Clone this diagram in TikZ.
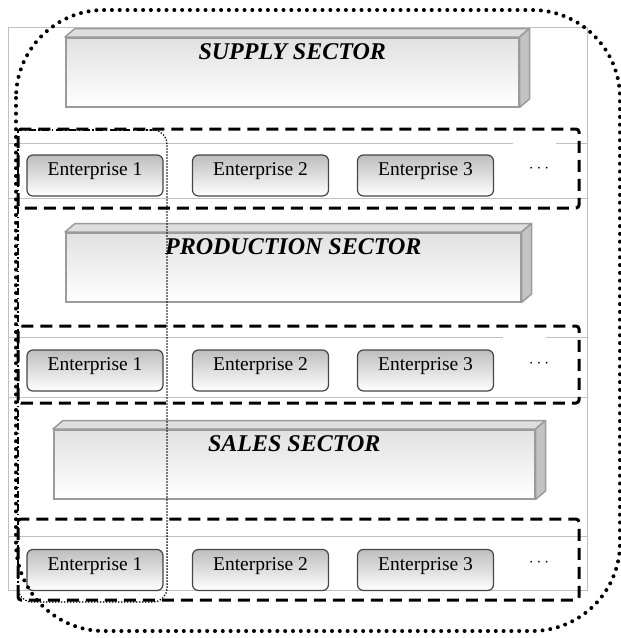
\documentclass[tikz,border=0pt]{standalone}
\usepackage{fontspec}
\setmainfont{Liberation Serif}
\definecolor{tablegray}{RGB}{192,192,192}
\definecolor{secborder}{RGB}{155,155,155}
\definecolor{sectop}{RGB}{222,222,222}
\definecolor{secside}{RGB}{195,195,195}
\definecolor{secshade}{RGB}{225,225,225}
\definecolor{entborder}{RGB}{70,70,70}
\definecolor{entshade}{RGB}{190,190,190}
\begin{document}
\begin{tikzpicture}[x=1pt,y=-1pt,
  tline/.style={draw=tablegray, line width=1pt},
  secfront/.style={draw=secborder, line width=1.5pt, top color=secshade, bottom color=white,
    rectangle, inner sep=0pt, anchor=north west},
  secface/.style={draw=secborder, line width=1.5pt, line join=round},
  sectxt/.style={anchor=north, inner sep=6pt, font=\fontsize{24}{28}\selectfont\bfseries\itshape},
  entbox/.style={draw=entborder, line width=1.2pt, rounded corners=6pt, top color=entshade,
    bottom color=white, minimum width=136pt, minimum height=41pt, inner sep=0pt,
    text height=10pt, text depth=10pt, font=\fontsize{19.5}{22}\selectfont},
  moredots/.style={inner sep=0pt, font=\fontsize{16}{18}\selectfont},
  grpbox/.style={draw=black, line width=3pt, dash pattern=on 12pt off 7pt, rounded corners=3pt},
  coldashdot/.style={draw=black, line width=2.4pt, dash pattern=on 7pt off 2.5pt on 1.5pt off 2.5pt},
  coldot/.style={draw=black, line width=1.8pt, dash pattern=on 0pt off 3pt, line cap=round},
  outerdot/.style={draw=black, line width=4pt, dash pattern=on 0pt off 7.8pt, line cap=round, rounded corners=88pt}
]
\useasboundingbox (0,0) rectangle (621,638);

% table grid
\draw[tline] (8,27) rectangle (587,590);
\draw[tline] (8,143) -- (513,143) (556,143) -- (587,143);
\draw[tline] (8,198) -- (587,198);
\draw[tline] (8,337) -- (503,337) (546,337) -- (587,337);
\draw[tline] (8,397) -- (587,397);
\draw[tline] (8,536) -- (587,536);

% sector boxes
\foreach \nm/\txt/\x/\y/\w in {supply/SUPPLY SECTOR/65/37/453, production/PRODUCTION SECTOR/65/232/455, sales/SALES SECTOR/53/429/481}{
  \node[secfront, minimum width=\w pt, minimum height=69pt, label={[sectxt]north:\txt}] (\nm) at (\x,\y) {};
  \draw[secface, fill=sectop] (\nm.north west) -- ([xshift=10pt,yshift=8.5pt]\nm.north west)
     -- ([xshift=10pt,yshift=8.5pt]\nm.north east) -- (\nm.north east) -- cycle;
  \draw[secface, fill=secside] (\nm.north east) -- ([xshift=10pt,yshift=8.5pt]\nm.north east)
     -- ([xshift=10pt,yshift=8.5pt]\nm.south east) -- (\nm.south east) -- cycle;
}

% enterprise rows
\foreach \r/\yy in {1/175.5, 2/370.5, 3/570}{
  \node[entbox] (e\r a) at (95,\yy) {Enterprise 1};
  \node[entbox] (e\r b) at (260.5,\yy) {Enterprise 2};
  \node[entbox] (e\r c) at (425.5,\yy) {Enterprise 3};
  \node[moredots] (dots\r) at (539,\yy-7) {$\cdots$};
}

% dashed groups
\draw[grpbox] (18,208) -- (18,129) -- (579,129) -- (579,208) -- cycle;
\draw[grpbox] (18,403) -- (18,326) -- (579,326) -- (579,403) -- cycle;
\draw[grpbox] (18,600) -- (18,519) -- (579,519) -- (579,600) -- cycle;

% enterprise-1 column
\draw[coldashdot] (18,592) -- (18,130) -- (152,130);
\draw[coldot, rounded corners=14pt] (150,130) -- (167,130) -- (167,602) -- (18,602) -- (18,585);

% outer dotted boundary
\draw[outerdot] (16,10) rectangle (620,631);
\end{tikzpicture}
\end{document}
